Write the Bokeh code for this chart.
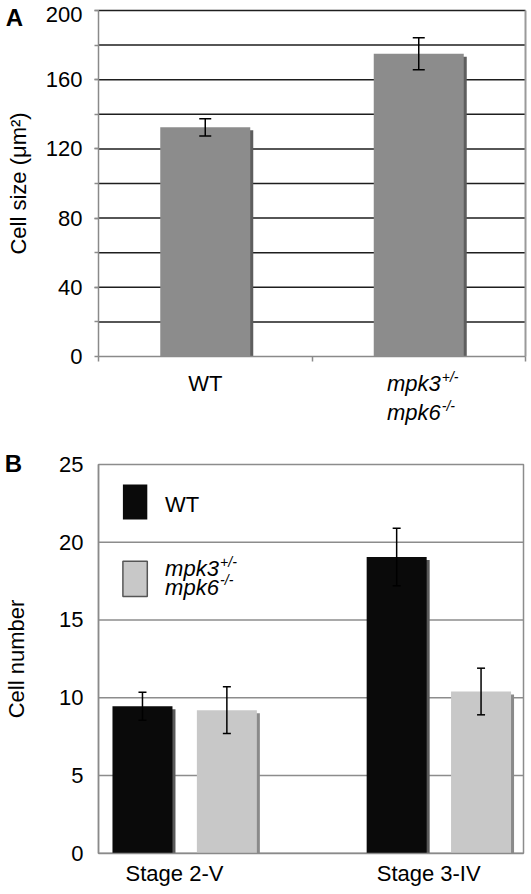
from bokeh.plotting import figure
from bokeh.models import (ColumnDataSource, FixedTicker, Whisker, TeeHead, Label, Range1d)
from bokeh.layouts import column
from bokeh.embed import file_html
from bokeh.resources import INLINE

FONT = "Liberation Sans"

# ---------------- data ----------------
# Panel A: cell size (µm²)
a_genotypes = ["WT", "mpk3+/- mpk6-/-"]
a_cell_size = [132.5, 175.0]
a_cell_size_err = [5.0, 9.3]
a_yticks = [0, 40, 80, 120, 160, 200]
a_ygrid = [20, 40, 60, 80, 100, 120, 140, 160, 180, 200]

# Panel B: cell number
b_stages = ["Stage 2-V", "Stage 3-IV"]
b_wt = [9.45, 19.05]
b_wt_err = [0.9, 1.85]
b_mpk = [9.2, 10.4]
b_mpk_err = [1.5, 1.5]
b_yticks = [0, 5, 10, 15, 20, 25]
b_ygrid = [5, 10, 15, 20]

# ---------------- layout constants (pixels) ----------------
W = 531
A_H, B_H = 440, 454
A_BOX = (98, 525, 10, 356)       # left, right, top, bottom of the plotting box in panel A
B_BOX = (98, 523, 24, 412.7)     # same for panel B
SHADOW = 3
GRAY_AX = "#8a8a8a"
FS = "22px"


def make_fig(h, box, xlo, xhi, ylo, yhi):
    l, r, t, b = box
    pxx = (r - l) / (xhi - xlo)
    pxy = (b - t) / (yhi - ylo)
    xr = Range1d(xlo - l / pxx, xhi + (W - r) / pxx)
    yr = Range1d(ylo - (h - b) / pxy, yhi + t / pxy)
    p = figure(width=W, height=h, x_range=xr, y_range=yr, output_backend="svg",
               toolbar_location=None, min_border=0)
    p.background_fill_color = "white"
    p.border_fill_color = "white"
    p.outline_line_color = None
    p.grid.grid_line_color = None
    for ax in (p.xaxis[0], p.yaxis[0]):
        ax.major_label_text_font = FONT
        ax.major_label_text_font_size = FS
        ax.major_label_text_color = "black"
        ax.axis_label_text_font = FONT
        ax.axis_label_text_font_size = FS
        ax.axis_label_text_font_style = "normal"
        ax.axis_label_text_color = "black"
        ax.axis_line_color = GRAY_AX
        ax.axis_line_width = 1.5
        ax.major_tick_line_color = GRAY_AX
        ax.minor_tick_line_color = GRAY_AX
        ax.major_tick_line_width = 1.5
        ax.minor_tick_line_width = 1.5
        ax.major_tick_in = 0
        ax.minor_tick_in = 0
    p.xaxis.fixed_location = ylo
    p.xaxis.bounds = (xlo, xhi)
    p.yaxis.fixed_location = xlo
    p.yaxis.bounds = (ylo, yhi)
    return p, pxx, pxy


def label(p, x, y, text, dx=0, dy=0, align="left", size=FS, style="normal"):
    p.add_layout(Label(x=x, y=y, x_offset=dx, y_offset=dy, text=text,
                       text_align=align, text_baseline="middle",
                       text_font=FONT, text_font_size=size, text_font_style=style,
                       text_color="black"))


def bar_source(xs, vals, errs, pxx, pxy):
    return ColumnDataSource(dict(
        x=xs, top=vals,
        xs=[x + SHADOW / pxx for x in xs],
        tops=[t - SHADOW / pxy for t in vals],
        upper=[m + e for m, e in zip(vals, errs)],
        lower=[m - e for m, e in zip(vals, errs)],
    ))


def bars(p, src, width, col, shcol, cap):
    p.vbar(x="xs", top="tops", width=width, bottom=0, source=src,
           fill_color=shcol, line_color=None)
    p.vbar(x="x", top="top", width=width, bottom=0, source=src,
           fill_color=col, line_color=None)
    p.add_layout(Whisker(source=src, base="x", upper="upper", lower="lower",
                         level="overlay", line_color="black", line_width=1.5,
                         upper_head=TeeHead(size=cap, line_width=1.5, line_color="black"),
                         lower_head=TeeHead(size=cap, line_width=1.5, line_color="black")))


# ================= Panel A =================
ax_lo, ax_hi, ay_lo, ay_hi = 0.0, 2.0, 0.0, 200.0
pA, a_pxx, a_pxy = make_fig(A_H, A_BOX, ax_lo, ax_hi, ay_lo, ay_hi)

# horizontal grid lines, top black line, grey right border
pA.segment(x0=ax_lo, x1=ax_hi, y0=a_ygrid, y1=a_ygrid, line_color="#1e1e1e", line_width=1.5)
pA.segment(x0=[ax_hi], x1=[ax_hi], y0=[ay_lo], y1=[ay_hi], line_color="#9a9a9a", line_width=2)

a_pos = [i + 0.5 for i in range(len(a_genotypes))]
srcA = bar_source(a_pos, a_cell_size, a_cell_size_err, a_pxx, a_pxy)
bars(pA, srcA, 90 / a_pxx, "#8c8c8c", "#5e5e5e", 12)

pA.yaxis.ticker = FixedTicker(ticks=a_yticks, minor_ticks=a_ygrid)
pA.yaxis.major_tick_out = 4
pA.yaxis.minor_tick_out = 4
pA.yaxis.major_label_standoff = 12
pA.yaxis.major_label_overrides = {a_yticks[-1]: " "}
pA.yaxis.axis_label = "Cell size (μm²)"
pA.yaxis.axis_label_standoff = 12
# top tick label sits slightly below its gridline, as in the original
label(pA, ax_lo, ay_hi, str(a_yticks[-1]), dx=-16, dy=-4, align="right")

pA.xaxis.ticker = FixedTicker(ticks=a_pos, minor_ticks=[0, 1, 2])
pA.xaxis.major_label_overrides = {a_pos[0]: a_genotypes[0], a_pos[1]: " "}
pA.xaxis.major_tick_out = 0
pA.xaxis.minor_tick_out = 5
pA.xaxis.major_label_standoff = 9

# two-line italic genotype label with superscripts
mx = a_pos[1]
for txt, sup, dy in (("mpk3", "+/-", -27), ("mpk6", "-/-", -56)):
    label(pA, mx, ay_lo, txt, dx=22, dy=dy, align="right", style="italic")
    label(pA, mx, ay_lo, sup, dx=23, dy=dy + 7, align="left", size="14px", style="italic")

label(pA, ax_lo, ay_hi, "A", dx=-84, dy=-7, align="center", size="24px", style="bold")

# ================= Panel B =================
bx_lo, bx_hi, by_lo, by_hi = -0.339, 1.333, 0.0, 25.0
pB, b_pxx, b_pxy = make_fig(B_H, B_BOX, bx_lo, bx_hi, by_lo, by_hi)

pB.quad(left=[bx_lo], right=[bx_hi], bottom=[by_lo], top=[by_hi],
        fill_color=None, line_color="#8c8c8c", line_width=1.5)
pB.segment(x0=bx_lo, x1=bx_hi, y0=b_ygrid, y1=b_ygrid, line_color="#8c8c8c", line_width=1.5)

grp = list(range(len(b_stages)))
off = 0.166
b_bw = 60 / b_pxx
srcWT = bar_source([g - off for g in grp], b_wt, b_wt_err, b_pxx, b_pxy)
srcMK = bar_source([g + off for g in grp], b_mpk, b_mpk_err, b_pxx, b_pxy)
bars(pB, srcWT, b_bw, "#0a0a0a", "#5a5a5a", 8)
bars(pB, srcMK, b_bw, "#c8c8c8", "#8a8a8a", 8)

pB.yaxis.ticker = FixedTicker(ticks=b_yticks)
pB.yaxis.major_tick_out = 0
pB.yaxis.major_label_standoff = 15
pB.yaxis.axis_label = "Cell number"
pB.yaxis.axis_label_standoff = 27

lab_shift = -0.04
b_ticks = [g + lab_shift for g in grp]
pB.xaxis.ticker = FixedTicker(ticks=b_ticks)
pB.xaxis.major_label_overrides = {t: s for t, s in zip(b_ticks, b_stages)}
pB.xaxis.major_tick_out = 0
pB.xaxis.major_label_standoff = 8

# legend (manual, to allow the superscripted genotype)
pB.quad(left=[-0.243], right=[-0.147], bottom=[21.46], top=[23.71],
        fill_color="#0a0a0a", line_color=None)
pB.quad(left=[-0.243], right=[-0.147], bottom=[16.51], top=[18.77],
        fill_color="#c8c8c8", line_color="#555555", line_width=1.5)
label(pB, -0.077, 22.43, "WT")
for txt, sup, yy in (("mpk3", "+/-", 18.31), ("mpk6", "-/-", 17.09)):
    label(pB, -0.077, yy, txt, style="italic")
    label(pB, -0.077, yy, sup, dx=55, dy=7, size="14px", style="italic")

label(pB, bx_lo, by_hi, "B", dx=-85, dy=1, align="center", size="24px", style="bold")

layout = column(pA, pB)
open("out.html", "w").write(file_html(layout, INLINE))
